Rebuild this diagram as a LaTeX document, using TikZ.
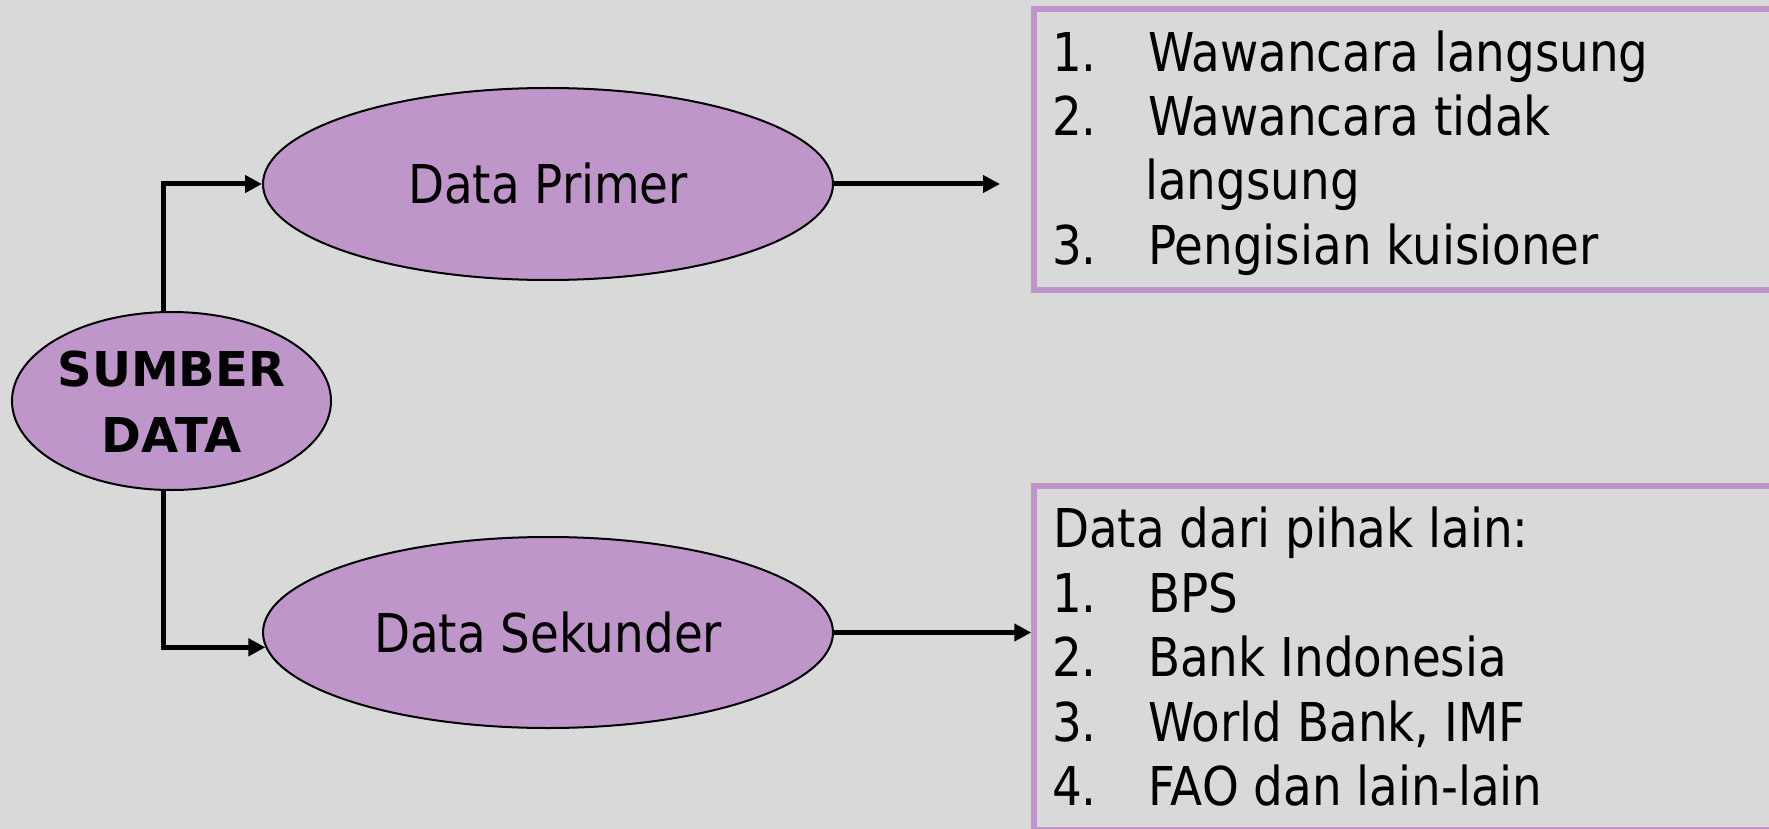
\documentclass[tikz,border=0pt]{standalone}
\usepackage{fontspec}
\setmainfont{DejaVu Sans}[FakeStretch=0.875]
\newfontfamily\sumberfont{DejaVu Sans}[FakeStretch=1.0]
\usetikzlibrary{shapes.geometric,arrows.meta}
\definecolor{bgc}{HTML}{D9D9D9}
\definecolor{lilac}{HTML}{BF96C9}
\begin{document}
\begin{tikzpicture}[x=1pt,y=-1pt,
  oval/.style={ellipse, draw=black, line width=2pt, fill=lilac, inner sep=0pt,
    font=\fontsize{53.5pt}{64pt}\selectfont},
  listbox/.style={draw=lilac, line width=5.5pt, rectangle, inner sep=0pt},
  conn/.style={line width=5pt, -{Triangle[length=17pt,width=17pt]}},
  item/.style={anchor=base west, inner sep=0pt, font=\fontsize{53.5pt}{64pt}\selectfont},
  sumbertxt/.style={inner sep=0pt, align=center,
    font=\sumberfont\bfseries\fontsize{48pt}{66pt}\selectfont}]
\fill[bgc] (0,0) rectangle (1769,829);
\useasboundingbox (0,0) rectangle (1769,829);
% boxes
\node[listbox, minimum width=766pt, minimum height=281pt] (boxA) at (1417,149.5) {};
\node[listbox, minimum width=766pt, minimum height=344pt] (boxB) at (1417,658) {};
% ellipses
\node[oval, minimum width=319pt, minimum height=178pt] (sumber) at (171.5,401) {};
\node[sumbertxt] (sumbertext) at ([yshift=-1pt]sumber.center) {SUMBER\\DATA};
\node[oval, minimum width=570pt, minimum height=192pt] (primer) at (548,184) {Data Primer};
\node[oval, minimum width=570pt, minimum height=191pt] (sekunder) at (548,632.5) {Data Sekunder};
% connectors
\coordinate (upstart) at ([xshift=-8pt]sumber.north);
\coordinate (downstart) at ([xshift=-8pt]sumber.south);
\coordinate (pend) at (1000,184);
\draw[conn] (upstart) |- (primer.west);
\draw[conn] (downstart) |- (sekunder.183.5);
\draw[conn] (primer.east) -- (pend);
\draw[conn] (sekunder.east) -- (sekunder.east -| boxB.west);
% list texts
\node[item] (a1) at (1052,72) {\makebox[96pt][l]{1.}Wawancara langsung};
\node[item] (a2) at (1052,136) {\makebox[96pt][l]{2.}Wawancara tidak};
\node[item] (a2b) at (1145,200) {langsung};
\node[item] (a3) at (1052,264) {\makebox[96pt][l]{3.}Pengisian kuisioner};
\node[item] (b0) at (1053,547) {Data dari pihak lain:};
\node[item] (b1) at (1052,612) {\makebox[96pt][l]{1.}BPS};
\node[item] (b2) at (1052,676) {\makebox[96pt][l]{2.}Bank Indonesia};
\node[item] (b3) at (1052,741) {\makebox[96pt][l]{3.}World Bank, IMF};
\node[item] (b4) at (1052,805) {\makebox[96pt][l]{4.}FAO dan lain-lain};
\end{tikzpicture}
\end{document}
